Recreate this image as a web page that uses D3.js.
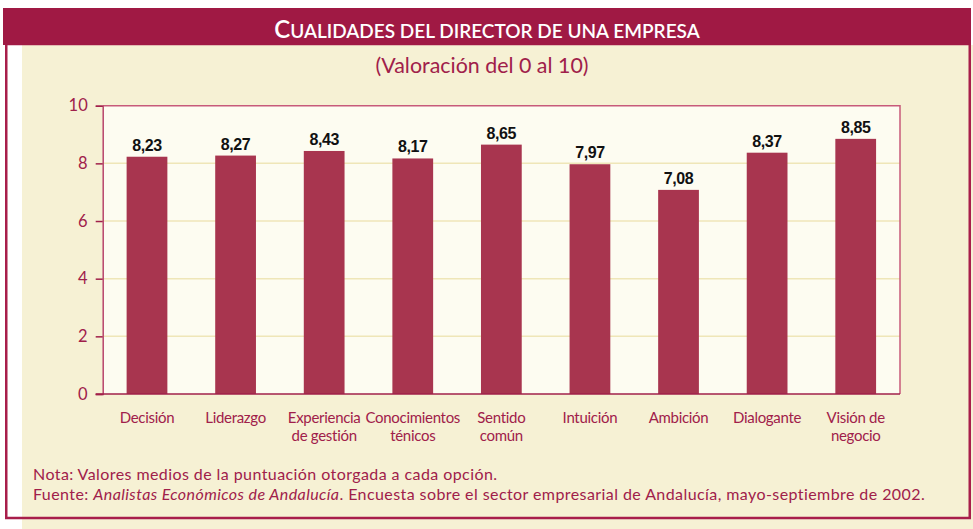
<!DOCTYPE html>
<html>
<head>
<meta charset="utf-8">
<script src="https://cdn.jsdelivr.net/npm/d3@7"></script>
<style>
  html, body { margin: 0; padding: 0; background: #ffffff; }
  svg { display: block; }
</style>
</head>
<body>
<svg id="chart" width="973" height="529"></svg>
<script>
// Survey data: average score (0–10) given to each quality
const categories = [
  ["Decisión"],
  ["Liderazgo"],
  ["Experiencia", "de gestión"],
  ["Conocimientos", "ténicos"],
  ["Sentido", "común"],
  ["Intuición"],
  ["Ambición"],
  ["Dialogante"],
  ["Visión de", "negocio"]
];
const values = [8.23, 8.27, 8.43, 8.17, 8.65, 7.97, 7.08, 8.37, 8.85];
const yTicks = [0, 2, 4, 6, 8, 10];

const titleText = "Cualidades del director de una empresa";
const subtitleText = "(Valoración del 0 al 10)";
const noteText = "Nota: Valores medios de la puntuación otorgada a cada opción.";
const sourceLabel = "Fuente: ";
const sourceItalic = "Analistas Económicos de Andalucía";
const sourceRest = ". Encuesta sobre el sector empresarial de Andalucía, mayo-septiembre de 2002.";

const crimson = "#a0204a";
const barColor = "#a8354f";
const cream = "#f6f1d4";
const plotBg = "#fdfcf1";
const gridColor = "#efe6b8";
const font = "Lato, 'Open Sans', sans-serif";

const svg = d3.select("#chart");

// Panel background, offset to the right of the frame
svg.append("rect").attr("x", 22).attr("y", 45).attr("width", 951).attr("height", 484).attr("fill", cream);
// Frame
svg.append("rect").attr("x", 6.25).attr("y", 44).attr("width", 963.5).attr("height", 474)
  .attr("fill", "none").attr("stroke", "#a81e4b").attr("stroke-width", 2.5);
// Title banner
svg.append("rect").attr("x", 3).attr("y", 8).attr("width", 968).attr("height", 37).attr("fill", "#a01944");

// Title in small capitals: first letter full size, the rest smaller uppercase
const title = svg.append("text").attr("x", 487).attr("y", 37.5)
  .attr("text-anchor", "middle").attr("fill", "#ffffff")
  .style("font-family", font).style("font-weight", 600);
title.append("tspan").style("font-size", "24px").text(titleText.charAt(0).toUpperCase());
title.append("tspan").style("font-size", "19px").text(titleText.slice(1).toUpperCase());

svg.append("text").attr("x", 482).attr("y", 73).attr("text-anchor", "middle")
  .attr("fill", crimson).style("font-family", font).style("font-size", "21.4px")
  .text(subtitleText);

// Plot area
const plot = { left: 102.7, right: 900, top: 105.7, bottom: 394 };

const x = d3.scaleBand()
  .domain(d3.range(categories.length))
  .range([plot.left, plot.right])
  .paddingInner(0.54)
  .paddingOuter(0.27);

const y = d3.scaleLinear().domain([0, 10]).range([plot.bottom, plot.top]);

svg.append("rect").attr("x", plot.left).attr("y", plot.top)
  .attr("width", plot.right - plot.left).attr("height", plot.bottom - plot.top)
  .attr("fill", plotBg);

// Horizontal gridlines
svg.append("g").selectAll("line")
  .data(yTicks.filter(t => t > 0 && t < 10))
  .join("line")
  .attr("x1", plot.left).attr("x2", plot.right)
  .attr("y1", d => y(d)).attr("y2", d => y(d))
  .attr("stroke", gridColor).attr("stroke-width", 1.5);

// Top and right plot border
svg.append("path")
  .attr("d", `M${plot.left},${plot.top}H${plot.right}V${plot.bottom}`)
  .attr("fill", "none").attr("stroke", "#c75a7a").attr("stroke-width", 1.5);

// Bars
svg.append("g").selectAll("rect")
  .data(values)
  .join("rect")
  .attr("x", (d, i) => x(i))
  .attr("width", x.bandwidth())
  .attr("y", d => y(d))
  .attr("height", d => y(0) - y(d))
  .attr("fill", barColor);

// Value labels
svg.append("g").selectAll("text")
  .data(values)
  .join("text")
  .attr("x", (d, i) => x(i) + x.bandwidth() / 2)
  .attr("y", d => y(d) - 6)
  .attr("text-anchor", "middle")
  .attr("fill", "#111111")
  .style("font-family", "'Liberation Sans', Arial, sans-serif")
  .style("font-weight", "bold")
  .style("font-size", "16px")
  .style("letter-spacing", "-0.4px")
  .text(d => d.toFixed(2).replace(".", ","));

// Y axis
const yAxis = d3.axisLeft(y).tickValues(yTicks).tickSize(7).tickPadding(8)
  .tickFormat(d3.format("d"));
const yg = svg.append("g").attr("transform", `translate(${plot.left},0)`).call(yAxis);
yg.select(".domain").attr("stroke", "#b8456a").attr("stroke-width", 1.5);
yg.selectAll(".tick line").attr("stroke", crimson).attr("stroke-width", 1.5);
yg.selectAll(".tick text").attr("fill", crimson)
  .style("font-family", font).style("font-size", "16.5px");

// Baseline
svg.append("line").attr("x1", plot.left - 7).attr("x2", plot.right)
  .attr("y1", plot.bottom).attr("y2", plot.bottom)
  .attr("stroke", crimson).attr("stroke-width", 1.5);

// Category labels, one or two lines
const catG = svg.append("g").selectAll("text")
  .data(categories)
  .join("text")
  .attr("x", (d, i) => x(i) + x.bandwidth() / 2)
  .attr("y", 423)
  .attr("text-anchor", "middle")
  .attr("fill", crimson)
  .style("font-family", font)
  .style("font-size", "15px")
  .style("letter-spacing", "-0.3px");
catG.selectAll("tspan")
  .data(d => d)
  .join("tspan")
  .attr("x", function () { return d3.select(this.parentNode).attr("x"); })
  .attr("dy", (d, i) => i === 0 ? 0 : 18)
  .text(d => d);

// Notes
const notes = svg.append("g").attr("fill", crimson)
  .style("font-family", font).style("font-size", "16px")
  .style("letter-spacing", "0.42px");
notes.append("text").attr("x", 33).attr("y", 480).text(noteText);
const src = notes.append("text").attr("x", 33).attr("y", 499.5);
src.append("tspan").text(sourceLabel);
src.append("tspan").style("font-style", "italic").text(sourceItalic);
src.append("tspan").text(sourceRest);
</script>
</body>
</html>
